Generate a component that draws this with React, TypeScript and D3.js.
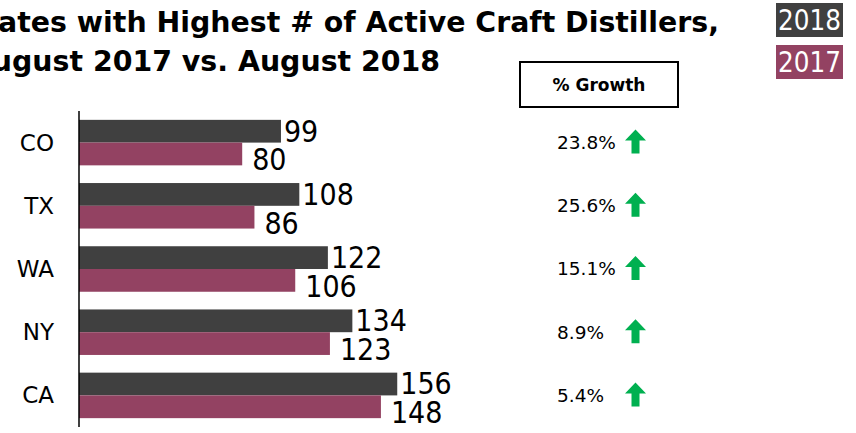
import React from "react";
import * as d3 from "d3";

const states = ["CO", "TX", "WA", "NY", "CA"];
const values2018 = [99, 108, 122, 134, 156];
const values2017 = [80, 86, 106, 123, 148];
const growthLabels = ["23.8%", "25.6%", "15.1%", "8.9%", "5.4%"];
const seriesNames = ["2018", "2017"];
const seriesColors = ["#404040", "#934262"];

const titleLines = [
  "States with Highest # of Active Craft Distillers,",
  "August 2017 vs. August 2018",
];

const W = 856;
const H = 433;
const condensed = "'DejaVu Sans Condensed', 'DejaVu Sans', sans-serif";

export default function App() {
  const rows = states.map((s, i) => ({
    state: s,
    vals: [values2018[i], values2017[i]],
    growth: growthLabels[i],
  }));

  // x: 2.04px per distiller, axis at x=79
  const x = d3.scaleLinear().domain([0, 160]).range([79, 405.4]);
  const y = d3
    .scaleBand()
    .domain(states)
    .range([111, 427])
    .paddingInner(0.28)
    .paddingOuter(0.14);
  const ySub = d3.scaleBand().domain(seriesNames).range([0, y.bandwidth()]);

  const arrow = d3.line()([
    [0, -12],
    [10.5, -1],
    [4, -1],
    [4, 12],
    [-4, 12],
    [-4, -1],
    [-10.5, -1],
    [0, -12],
  ]);

  return (
    <svg
      width={W}
      height={H}
      style={{ position: "absolute", left: 0, top: 0, background: "#fff" }}
    >
      {/* title, clipped on the left like the source slide */}
      <g fontFamily="'DejaVu Sans', sans-serif" fontWeight="bold" fontSize={28.4} fill="#000">
        <text x={719} y={32} textAnchor="end">
          {titleLines[0]}
        </text>
        <text x={440} y={71} textAnchor="end">
          {titleLines[1]}
        </text>
      </g>

      {/* legend */}
      {seriesNames.map((name, i) => (
        <g key={name} transform={`translate(776, ${3 + i * 42})`}>
          <rect width={67} height={34} fill={seriesColors[i]} />
          <text
            x={33.5}
            y={27}
            textAnchor="middle"
            fill="#fff"
            fontFamily={condensed}
            fontSize={27.5}
          >
            {name}
          </text>
        </g>
      ))}

      {/* % growth header */}
      <rect x={520} y={62} width={158} height={45} fill="#fff" stroke="#000" strokeWidth={2} />
      <text
        x={599}
        y={91}
        textAnchor="middle"
        fontFamily="'DejaVu Sans', sans-serif"
        fontWeight="bold"
        fontSize={17}
      >
        % Growth
      </text>

      {/* bars */}
      {rows.map((r) => (
        <g key={r.state} transform={`translate(0, ${y(r.state)})`}>
          {r.vals.map((v, j) => {
            const name = seriesNames[j];
            const top = ySub(name)!;
            const bw = ySub.bandwidth();
            return (
              <g key={name}>
                <rect
                  x={x(0)}
                  y={top}
                  width={x(v) - x(0)}
                  height={bw}
                  fill={seriesColors[j]}
                />
                <text
                  x={x(v) + (j === 0 ? 3 : 10)}
                  y={top + bw + (j === 0 ? -1 : 5)}
                  fontFamily={condensed}
                  fontSize={30}
                  fill="#000"
                >
                  {v}
                </text>
              </g>
            );
          })}
          <text
            x={54}
            y={y.bandwidth() / 2}
            textAnchor="end"
            dominantBaseline="central"
            fontFamily="'DejaVu Sans', sans-serif"
            fontSize={23}
          >
            {r.state}
          </text>
          <text
            x={557}
            y={y.bandwidth() / 2}
            dominantBaseline="central"
            fontFamily="'DejaVu Sans', sans-serif"
            fontSize={18.5}
          >
            {r.growth}
          </text>
          <path
            d={arrow ?? ""}
            transform={`translate(635.5, ${y.bandwidth() / 2 - 1})`}
            fill="#00B050"
          />
        </g>
      ))}

      {/* category axis line */}
      <line x1={x(0)} x2={x(0)} y1={111} y2={427} stroke="#000" strokeWidth={1.5} />
    </svg>
  );
}
